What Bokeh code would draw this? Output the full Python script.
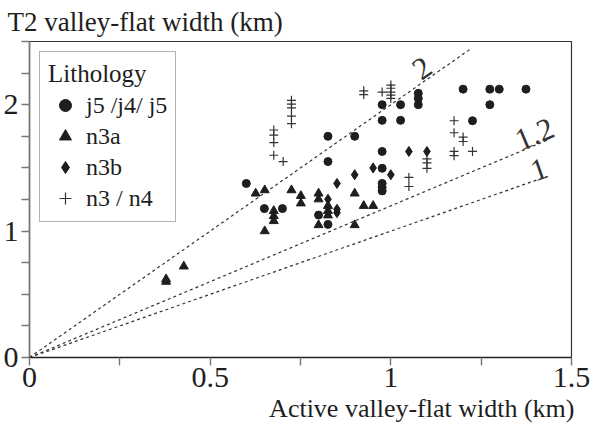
import math
from bokeh.plotting import figure
from bokeh.models import (Range1d, FixedTicker, Legend, LegendItem, Title,
                          ColumnDataSource, NumeralTickFormatter,
                          InlineStyleSheet)
from bokeh.core.properties import value
from bokeh.embed import file_html
from bokeh.resources import INLINE

# ---------------- data ----------------
x_major_ticks = [0, 0.5, 1, 1.5]
x_minor_ticks = [0.25, 0.75, 1.25]
y_major_ticks = [0, 1, 2]
y_minor_ticks = [0.25, 0.5, 0.75, 1.25, 1.5, 1.75, 2.25, 2.5]

# j5 /j4/ j5 (circles)
j5_x = [0.600, 0.650, 0.700, 0.800, 0.826, 0.826, 0.826, 0.900, 0.976, 0.976,
        0.976, 0.976, 0.976, 0.976, 0.976, 1.027, 1.027, 1.076, 1.076, 1.076,
        1.200, 1.226, 1.274, 1.274, 1.300, 1.374]
j5_y = [1.377, 1.178, 1.178, 1.127, 1.053, 1.550, 1.750, 1.750, 2.000, 1.876,
        1.630, 1.497, 1.377, 1.345, 1.318, 2.000, 1.876, 2.090, 2.050, 2.000,
        2.123, 1.873, 2.123, 2.000, 2.123, 2.123]

# n3a (triangles)
n3a_x = [0.378, 0.378, 0.427, 0.626, 0.651, 0.651, 0.676, 0.676, 0.676, 0.725,
         0.751, 0.751, 0.800, 0.800, 0.800, 0.826, 0.826, 0.826, 0.900, 0.900,
         0.925, 0.951]
n3a_y = [0.620, 0.600, 0.721, 1.298, 1.324, 1.000, 1.160, 1.120, 1.080, 1.324,
         1.279, 1.220, 1.298, 1.252, 1.048, 1.200, 1.160, 1.125, 1.298, 1.048,
         1.200, 1.200]

# n3b (diamonds)
n3b_x = [0.826, 0.851, 0.851, 0.851, 0.900, 0.951, 1.000, 1.050, 1.100]
n3b_y = [1.252, 1.377, 1.173, 1.146, 1.446, 1.500, 1.446, 1.630, 1.630]

# n3 / n4 (plus)
n34_x = [0.676, 0.676, 0.676, 0.676, 0.702, 0.725, 0.725, 0.725, 0.725, 0.725,
         0.925, 0.925, 0.976, 1.000, 1.000, 1.000, 1.000, 1.000, 1.050, 1.050,
         1.100, 1.100, 1.100, 1.175, 1.175, 1.200, 1.200, 1.175, 1.175, 1.226]
n34_y = [1.800, 1.760, 1.700, 1.600, 1.550, 2.035, 2.005, 1.975, 1.910, 1.850,
         2.110, 2.080, 2.100, 2.155, 2.130, 2.100, 2.075, 2.050, 1.425, 1.353,
         1.571, 1.539, 1.497, 1.873, 1.778, 1.744, 1.709, 1.630, 1.597, 1.630]

# ratio lines T2 / active
ratio_slopes = [2, 1.2, 1]
ratio_labels = ["2", "1.2", "1"]
ratio_x_end = [1.22, 1.44, 1.44]
ratio_label_x = [1.086, 1.397, 1.41]
ratio_label_y = [2.29, 1.77, 1.49]

legend_labels = ["j5 /j4/ j5", "n3a", "n3b", "n3 / n4"]
y_axis_name = "T2 valley-flat width (km)"
x_axis_name = "Active valley-flat width (km)"

FONT = "Liberation Serif"
INK = "#1e1e1e"

X_MIN, X_MAX = 0, 1.5
Y_MIN, Y_MAX = 0, 2.5
W, H = 591, 424

p = figure(width=W, height=H, output_backend="svg", toolbar_location=None,
           x_range=Range1d(X_MIN, X_MAX), y_range=Range1d(Y_MIN, Y_MAX),
           min_border_left=2, min_border_right=20, min_border_top=4,
           min_border_bottom=0)
p.stylesheets = [InlineStyleSheet(
    css=":host { font-family: 'Liberation Serif', serif; } "
        "text { font-family: 'Liberation Serif', serif !important; }")]
p.xgrid.visible = False
p.ygrid.visible = False
p.outline_line_color = "#333333"
p.outline_line_width = 1.2
p.background_fill_color = "white"
p.border_fill_color = "white"

# y-axis name as title above, left
p.title.text = y_axis_name
p.title.align = "left"
p.title.text_font = FONT
p.title.text_font_size = "27px"
p.title.text_font_style = "normal"
p.title.text_color = INK
p.title.offset = -22
p.title.standoff = 9

# x-axis name below, right
p.add_layout(Title(text=x_axis_name, align="right",
                   text_font=FONT, text_font_size="26px",
                   text_font_style="normal", text_color=INK,
                   offset=-3, standoff=4), "below")

for ax, maj, mnr, col in ((p.xaxis[0], x_major_ticks, x_minor_ticks, "#222222"),
                          (p.yaxis[0], y_major_ticks, y_minor_ticks, "#777777")):
    ax.ticker = FixedTicker(ticks=maj, minor_ticks=mnr)
    ax.formatter = NumeralTickFormatter(format="0.[0]")
    ax.major_label_text_font = FONT
    ax.major_label_text_font_size = "30px"
    ax.major_label_text_color = INK
    ax.axis_line_color = col
    ax.axis_line_width = 1.6
    ax.major_tick_line_color = "#777777"
    ax.minor_tick_line_color = "#777777"
    ax.major_tick_line_width = 1.4
    ax.minor_tick_line_width = 1.4
    ax.major_tick_in = 0
    ax.major_tick_out = 8
    ax.minor_tick_in = 0
    ax.minor_tick_out = 8
p.xaxis[0].major_label_standoff = 2
p.yaxis[0].major_label_standoff = 3

# ratio lines
for s, xe in zip(ratio_slopes, ratio_x_end):
    p.line([0, xe], [0, s * xe], line_color="#333333", line_width=1.2,
           line_dash="3 3")
frame_w = 540.0
frame_h = 313.5
lab_src = ColumnDataSource(dict(
    x=ratio_label_x, y=ratio_label_y, t=ratio_labels,
    a=[math.atan(s * (frame_h / (Y_MAX - Y_MIN)) / (frame_w / (X_MAX - X_MIN)))
       for s in ratio_slopes]))
p.text(x="x", y="y", text="t", angle="a", source=lab_src,
       text_font=value(FONT), text_font_size="31px", text_color="#333333",
       text_align="center", text_baseline="middle")

r1 = p.scatter(j5_x, j5_y, marker="circle", size=8, fill_color=INK,
               line_color=INK)
r2 = p.scatter(n3a_x, n3a_y, marker="triangle", size=9, fill_color=INK,
               line_color=INK)
r3 = p.scatter(n3b_x, n3b_y, marker="diamond", size=10, fill_color=INK,
               line_color=INK)
r4 = p.scatter(n34_x, n34_y, marker="cross", size=9, line_color="#333333",
               line_width=1.2)

legend = Legend(items=[LegendItem(label=l, renderers=[r])
                       for l, r in zip(legend_labels, [r1, r2, r3, r4])],
                location="top_left", title="Lithology")
legend.title_text_font = FONT
legend.title_text_font_size = "25px"
legend.title_text_font_style = "normal"
legend.title_text_color = INK
legend.title_standoff = 2
legend.label_text_font = FONT
legend.label_text_font_size = "24px"
legend.label_text_color = INK
legend.label_height = 30
legend.glyph_height = 30
legend.glyph_width = 34
legend.label_standoff = 4
legend.spacing = 1
legend.padding = 8
legend.margin = 10
legend.border_line_color = "#666666"
legend.border_line_width = 1.4
legend.background_fill_color = "white"
legend.background_fill_alpha = 1.0
p.add_layout(legend)

open("out.html", "w").write(file_html(p, INLINE))
